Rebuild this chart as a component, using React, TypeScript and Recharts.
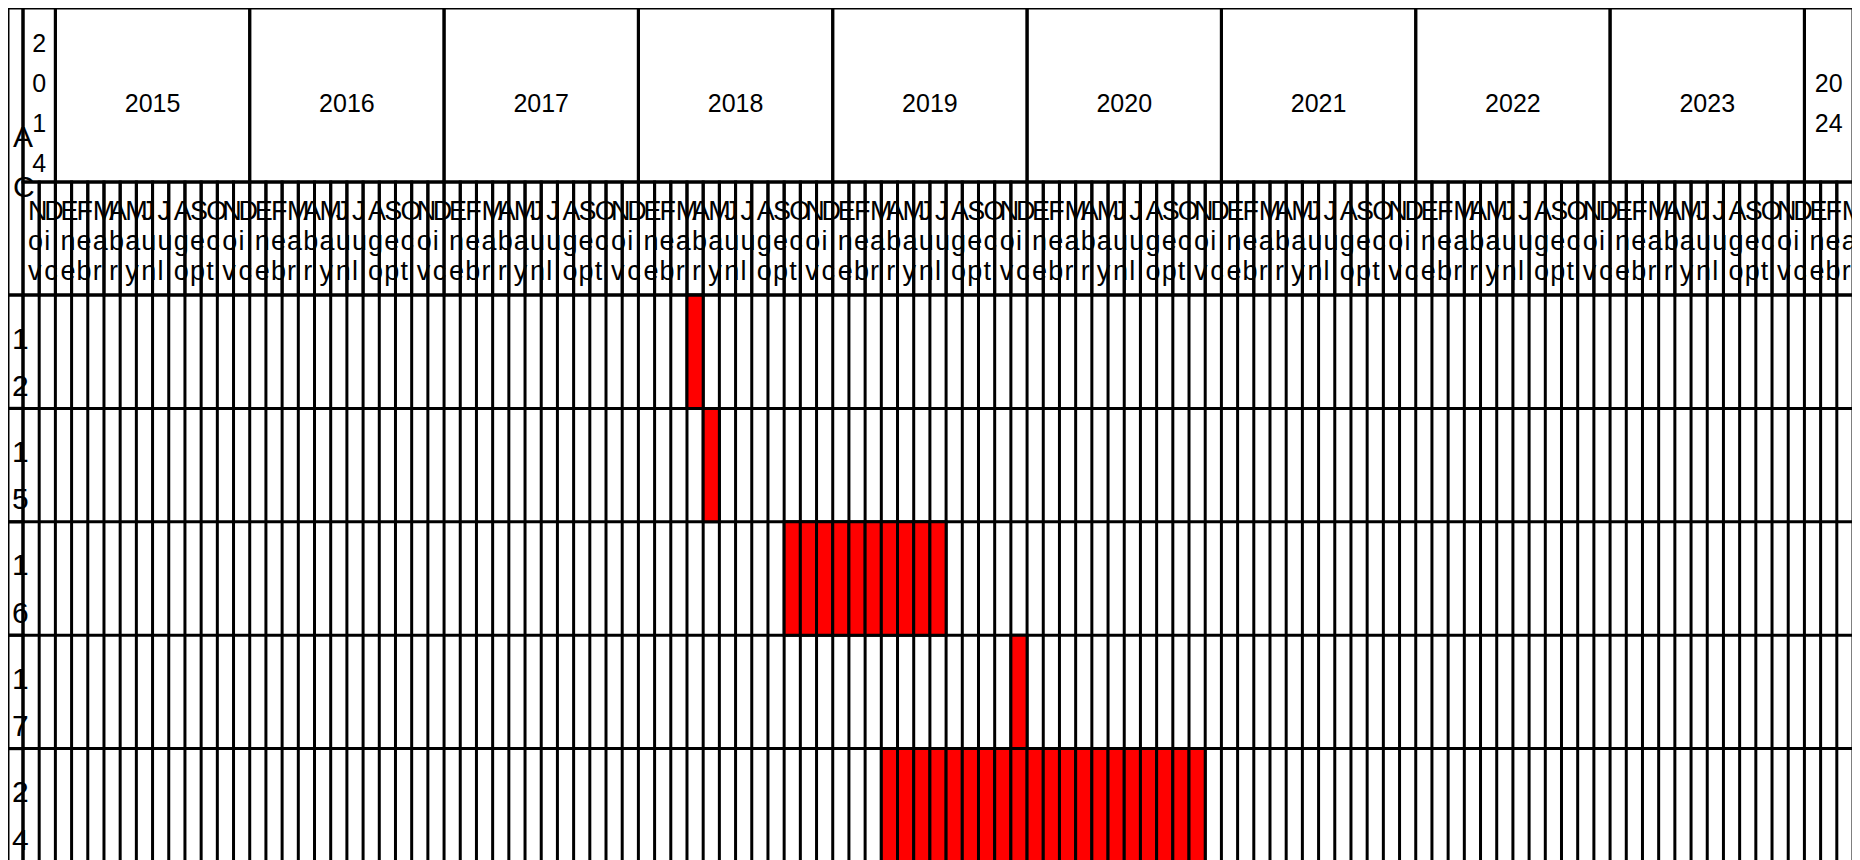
import { CartesianGrid, ComposedChart, ReferenceArea, XAxis, YAxis } from 'recharts'

const MONTH_NAMES = ['Ene', 'Feb', 'Mar', 'Abr', 'May', 'Jun', 'Jul', 'Ago', 'Sep', 'Oct', 'Nov', 'Dic']
const YEARS = [2014, 2015, 2016, 2017, 2018, 2019, 2020, 2021, 2022, 2023, 2024]
// first and last month shown (index into MONTH_NAMES)
const FIRST_MONTH = 10
const LAST_MONTH = 2
const ROWS = ['12', '15', '16', '17', '24']
const AXIS_TITLE = 'AC'

const TASKS = [
  { row: '12', start: 'Abr 2018', end: 'Abr 2018' },
  { row: '15', start: 'May 2018', end: 'May 2018' },
  { row: '16', start: 'Oct 2018', end: 'Jul 2019' },
  { row: '17', start: 'Dic 2019', end: 'Dic 2019' },
  { row: '24', start: 'Abr 2019', end: 'Nov 2020' },
]

const months: { name: string; year: number; key: string }[] = []
YEARS.forEach((year, yi) => {
  const from = yi === 0 ? FIRST_MONTH : 0
  const to = yi === YEARS.length - 1 ? LAST_MONTH : 11
  for (let m = from; m <= to; m++) {
    months.push({ name: MONTH_NAMES[m], year, key: `${MONTH_NAMES[m]} ${year}` })
  }
})
const N = months.length

const yearSpans = YEARS.map((year) => {
  const start = months.findIndex((m) => m.year === year)
  const count = months.filter((m) => m.year === year).length
  return { year, start, count }
})

const cells: { m: number; r: number }[] = []
TASKS.forEach((t) => {
  const r = ROWS.indexOf(t.row)
  const a = months.findIndex((m) => m.key === t.start)
  const b = months.findIndex((m) => m.key === t.end)
  for (let m = a; m <= b; m++) cells.push({ m, r })
})

// layout
const W = 1846
const H = 860
const MARGIN = { top: 0, right: 1, bottom: 6, left: 0 }
const Y_W = 15
const YEAR_H = 174
const MONTH_H = 113
const PLOT_W = W - Y_W - MARGIN.left - MARGIN.right
const PLOT_H = H - YEAR_H - MONTH_H - MARGIN.top - MARGIN.bottom
const MONTH_PX = PLOT_W / N
const ROW_PX = PLOT_H / ROWS.length
const FONT = '"Liberation Sans", Arial, sans-serif'
const LINE = { stroke: '#000', strokeWidth: 3, fill: 'none' }

function chunk(s: string, n: number) {
  const out: string[] = []
  for (let i = 0; i < s.length; i += n) out.push(s.slice(i, i + n))
  return out
}

function MonthTick({ x, y, payload }: any) {
  const i = payload.value
  if (i >= N) return <g />
  const top = y - MONTH_H
  const chars = months[i].name.split('')
  return (
    <g>
      <rect x={x} y={top} width={MONTH_PX} height={MONTH_H} {...LINE} />
      <text fontFamily={FONT} fontSize={27} fill="#000">
        {chars.map((c, k) => (
          <tspan key={k} x={x + 5} y={top + 38 + 30 * k}>
            {c}
          </tspan>
        ))}
      </text>
    </g>
  )
}

function YearTick({ x, y, payload }: any) {
  const span = yearSpans.find((s) => s.start === payload.value)
  if (!span) return <g />
  const top = y - YEAR_H
  const w = span.count * MONTH_PX
  const perLine = Math.max(1, Math.floor((w - 12) / (0.556 * 25)))
  const lines = chunk(String(span.year), perLine)
  const mid = top + YEAR_H / 2 + 16.5
  return (
    <g>
      <rect x={x} y={top} width={w} height={YEAR_H} {...LINE} />
      <text fontFamily={FONT} fontSize={25} fill="#000" textAnchor="middle">
        {lines.map((l, k) => (
          <tspan key={k} x={x + w / 2} y={mid + (k - (lines.length - 1) / 2) * 40}>
            {l}
          </tspan>
        ))}
      </text>
    </g>
  )
}

function RowTick({ x, y, payload }: any) {
  const r = payload.value
  if (r >= ROWS.length) return <g />
  const left = x - Y_W
  return (
    <g>
      <rect x={left} y={y} width={Y_W} height={ROW_PX} {...LINE} />
      <text fontFamily={FONT} fontSize={30} fill="#000">
        {ROWS[r].split('').map((c, k) => (
          <tspan key={k} x={left + 4} y={y + 53.5 + 47.5 * k}>
            {c}
          </tspan>
        ))}
      </text>
    </g>
  )
}

export default function App() {
  const monthTicks = Array.from({ length: N + 1 }, (_, i) => i)
  const rowTicks = Array.from({ length: ROWS.length + 1 }, (_, i) => i)
  return (
    <div>
      <style>{'html,body{overflow:hidden}.recharts-surface{overflow:visible}'}</style>
      <ComposedChart width={W} height={H} margin={MARGIN}>
        <CartesianGrid xAxisId="month" yAxisId="row" stroke="#000" strokeWidth={3} />
        <XAxis
          xAxisId="month"
          orientation="top"
          type="number"
          dataKey="m"
          domain={[0, N]}
          allowDataOverflow
          ticks={monthTicks}
          interval={0}
          height={MONTH_H}
          tickSize={0}
          tickMargin={0}
          axisLine={false}
          tick={<MonthTick />}
        />
        <XAxis
          xAxisId="year"
          orientation="top"
          type="number"
          dataKey="m"
          domain={[0, N]}
          allowDataOverflow
          ticks={yearSpans.map((s) => s.start)}
          interval={0}
          height={YEAR_H}
          tickSize={0}
          tickMargin={0}
          axisLine={false}
          tick={<YearTick />}
        />
        <YAxis
          yAxisId="row"
          type="number"
          dataKey="r"
          domain={[0, ROWS.length]}
          allowDataOverflow
          reversed
          ticks={rowTicks}
          interval={0}
          width={Y_W}
          tickSize={0}
          tickMargin={0}
          axisLine={false}
          tick={<RowTick />}
        />
        {cells.map((c, i) => (
          <ReferenceArea
            key={i}
            xAxisId="month"
            yAxisId="row"
            x1={c.m}
            x2={c.m + 1}
            y1={c.r}
            y2={c.r + 1}
            fill="#ff0000"
            fillOpacity={1}
            stroke="#000"
            strokeWidth={3}
            ifOverflow="visible"
          />
        ))}
        <g>
          <rect x={MARGIN.left} y={MARGIN.top} width={Y_W} height={YEAR_H + MONTH_H} {...LINE} />
          <text fontFamily={FONT} fontSize={30} fill="#000">
            {AXIS_TITLE.split('').map((c, k) => (
              <tspan key={k} x={MARGIN.left + 5} y={139 + 50 * k}>
                {c}
              </tspan>
            ))}
          </text>
        </g>
      </ComposedChart>
    </div>
  )
}
